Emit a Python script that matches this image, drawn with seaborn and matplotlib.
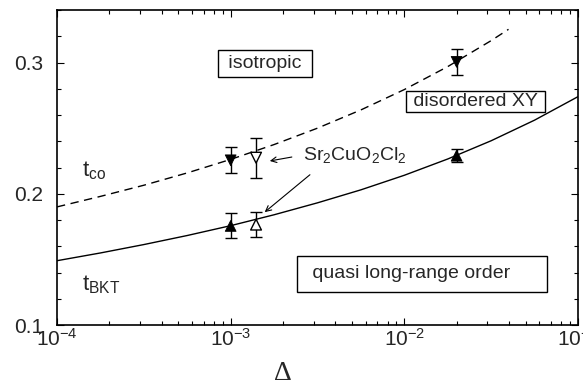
import seaborn as sns
import matplotlib.pyplot as plt
import pandas as pd
import numpy as np
from matplotlib.ticker import MultipleLocator, LogLocator, NullFormatter

# phase boundaries
delta_co = [1e-4, 1.778e-4, 3.162e-4, 5.623e-4, 1e-3, 1.778e-3, 3.162e-3,
            5.623e-3, 1e-2, 1.778e-2, 3.162e-2, 3.98e-2]
t_co = [0.190, 0.198, 0.2065, 0.2159, 0.2262, 0.2375, 0.2500,
        0.2639, 0.2794, 0.2969, 0.3167, 0.3253]
delta_bkt = [1e-4, 1.778e-4, 3.162e-4, 5.623e-4, 1e-3, 1.778e-3, 3.162e-3,
             5.623e-3, 1e-2, 1.778e-2, 3.162e-2, 5.623e-2, 1e-1]
t_bkt = [0.149, 0.1549, 0.1613, 0.1682, 0.1757, 0.1840, 0.1931,
         0.2030, 0.2141, 0.2265, 0.2404, 0.2561, 0.2740]

# simulation points (filled)
pt_delta = [1e-3, 2e-2, 1e-3, 2e-2]
pt_t = [0.2255, 0.3005, 0.1755, 0.229]
pt_err = [0.01, 0.01, 0.0095, 0.005]
pt_kind = ['co', 'co', 'bkt', 'bkt']

# Sr2CuO2Cl2 (open)
sr_delta = [1.4e-3, 1.4e-3]
sr_t = [0.2275, 0.1765]
sr_err = [0.0152, 0.0095]
sr_kind = ['co', 'bkt']

sns.set_style('ticks')
plt.rcParams['font.family'] = ['Liberation Sans', 'DejaVu Sans']
plt.rcParams['mathtext.fontset'] = 'custom'
plt.rcParams['mathtext.rm'] = 'Liberation Sans'
plt.rcParams['mathtext.it'] = 'Liberation Sans:italic'

fig = plt.figure(figsize=(5.83, 3.86), dpi=100)
ax = fig.add_axes([0.0978, 0.158, 0.8936, 0.816])

co_df = pd.DataFrame({'delta': delta_co, 't': t_co})
bkt_df = pd.DataFrame({'delta': delta_bkt, 't': t_bkt})
sns.lineplot(co_df, x='delta', y='t', ax=ax, color='black', lw=1,
             linestyle=(0, (6, 4)), sort=False, estimator=None)
sns.lineplot(bkt_df, x='delta', y='t', ax=ax, color='black', lw=1,
             sort=False, estimator=None)

markers = {'co': 'v', 'bkt': '^'}
pts = pd.DataFrame({'delta': pt_delta, 't': pt_t, 'kind': pt_kind})
sr = pd.DataFrame({'delta': sr_delta, 't': sr_t, 'kind': sr_kind})
ax.errorbar(pt_delta, pt_t, yerr=pt_err, fmt='none', ecolor='black',
            elinewidth=1, capsize=4, capthick=1, zorder=3)
ax.errorbar(sr_delta, sr_t, yerr=sr_err, fmt='none', ecolor='black',
            elinewidth=1, capsize=4, capthick=1, zorder=3)
sns.scatterplot(pts, x='delta', y='t', style='kind', markers=markers,
                color='black', edgecolor='black', s=60, legend=False,
                ax=ax, zorder=4)
sns.scatterplot(sr, x='delta', y='t', style='kind', markers=markers,
                color='white', edgecolor='black', linewidth=1, s=60,
                legend=False, ax=ax, zorder=4)

ax.set_xscale('log')
ax.set_xlim(1e-4, 1e-1)
ax.set_ylim(0.1, 0.34)
ax.set_yticks([0.1, 0.2, 0.3])
ax.yaxis.set_minor_locator(MultipleLocator(0.02))
ax.xaxis.set_minor_locator(LogLocator(base=10, subs=np.arange(2, 10)))
ax.xaxis.set_minor_formatter(NullFormatter())
ax.tick_params(which='both', direction='in', top=True, right=True,
               labelsize=15, width=0.8, color='black')
ax.tick_params(which='major', length=5)
ax.tick_params(which='minor', length=3)
ax.tick_params(axis='y', pad=10)
ax.tick_params(axis='x', pad=2)
for s in ax.spines.values():
    s.set_linewidth(1.2)
    s.set_color('black')

ax.set_ylabel('')
ax.set_xlabel('Δ', fontsize=20, family='Liberation Serif')
ax.xaxis.set_label_coords(0.434, -0.115)

ax.text(1.57e-3, 0.2992, ' isotropic ', fontsize=14, ha='center', va='center',
        bbox=dict(boxstyle='square,pad=0.27', fc='white', ec='black', lw=1))
ax.text(0.0258, 0.270, ' disordered XY ', fontsize=14, ha='center', va='center',
        bbox=dict(boxstyle='square,pad=0.1', fc='white', ec='black', lw=1))
ax.text(0.0126, 0.139, ' quasi long-range order     ', fontsize=14, ha='center',
        va='center', bbox=dict(boxstyle='square,pad=0.5', fc='white', ec='black', lw=1))

ax.text(1.39e-4, 0.213, r'$\mathregular{t_{co}}$', fontsize=16, va='baseline')
ax.text(1.39e-4, 0.1267, r'$\mathregular{t_{BKT}}$', fontsize=16, va='baseline')
ax.text(2.61e-3, 0.226, r'Sr$_2$CuO$_2$Cl$_2$', fontsize=14, va='baseline')

arrow = dict(arrowstyle='->', color='black', lw=0.8, shrinkA=0, shrinkB=0)
ax.annotate('', xy=(1.68e-3, 0.225), xytext=(2.25e-3, 0.228), arrowprops=arrow)
ax.annotate('', xy=(1.57e-3, 0.186), xytext=(2.86e-3, 0.2145), arrowprops=arrow)

plt.savefig('out.png', dpi=100)
